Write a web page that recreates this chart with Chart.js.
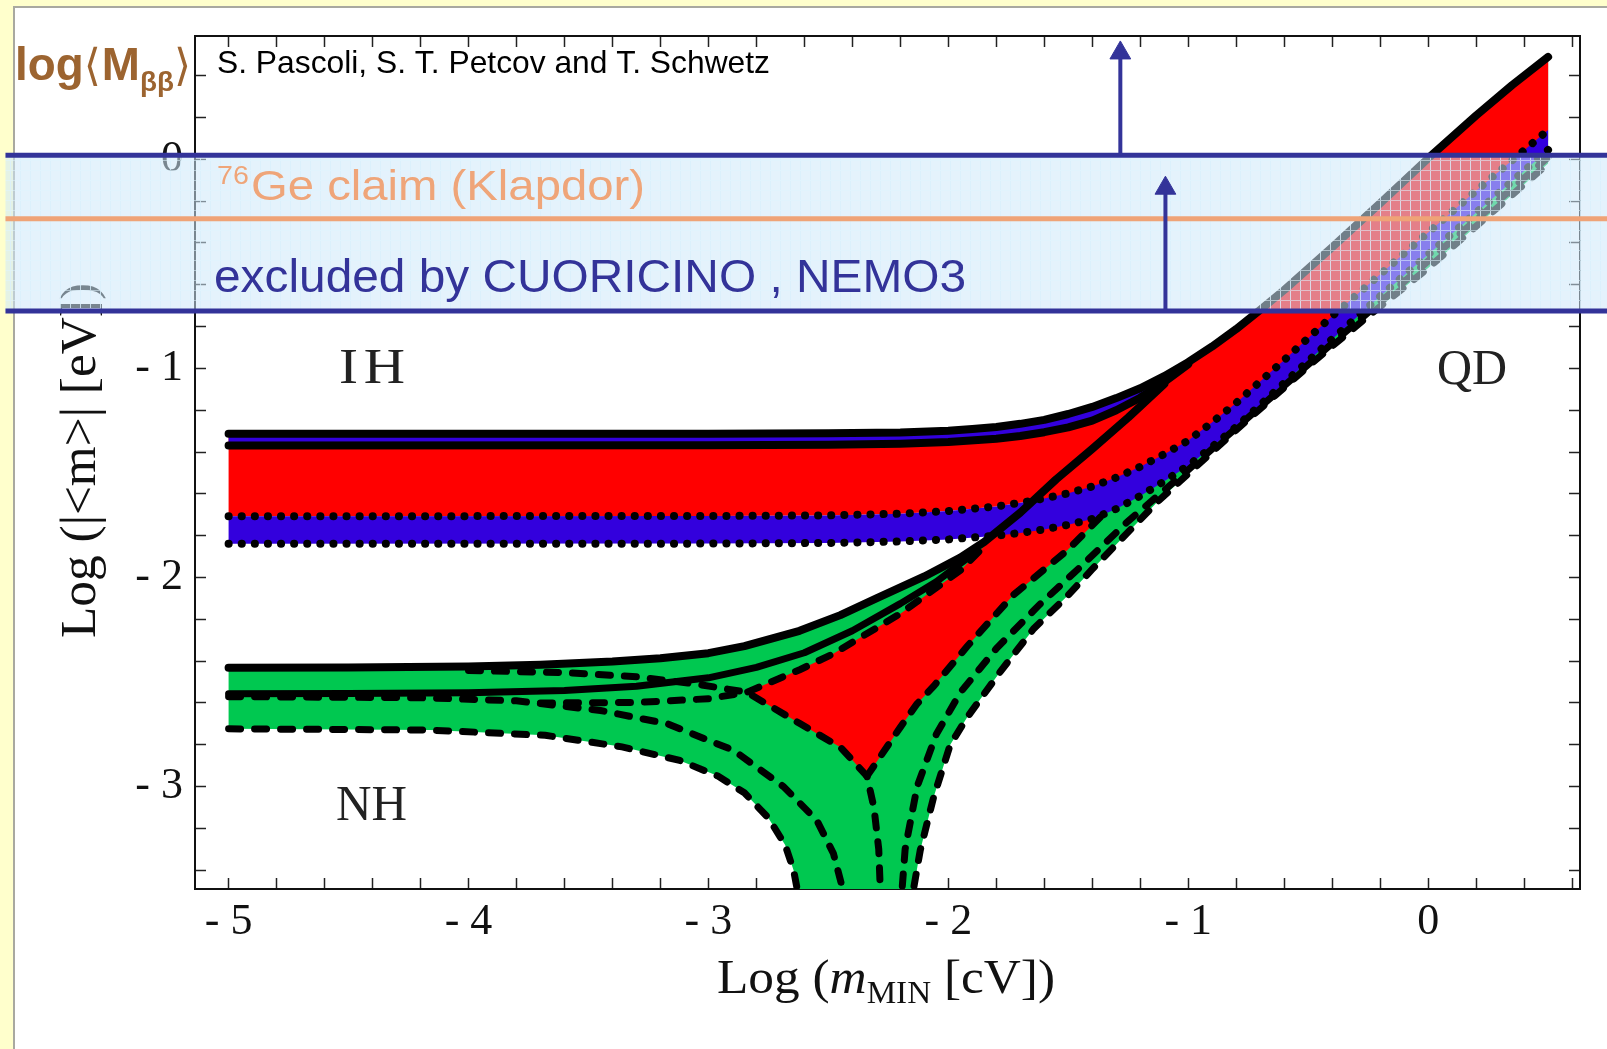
<!DOCTYPE html>
<html>
<head>
<meta charset="utf-8">
<script src="https://cdn.jsdelivr.net/npm/chart.js"></script>
<style>
  html, body { margin: 0; padding: 0; background: #FFFFCC; overflow: hidden; }
  #slide { position: absolute; left: 13px; top: 6px; right: 0; bottom: 0; background: #fff;
           border-left: 2px solid #A9A9A0; border-top: 2px solid #A9A9A0; }
  #wrap { position: absolute; left: 0; top: 0; width: 1607px; height: 1049px; }
</style>
</head>
<body>
<div id="slide"></div>
<div id="wrap"><canvas id="chart"></canvas></div>
<script>
// axes: log10(m_MIN / eV) and log10(|<m>| / eV)
const xRange = [-5.14, 0.633];
const yRange = [-3.49, 0.59];
const xMajor = [-5, -4, -3, -2, -1, 0];
const xTickLabels = ['- 5', '- 4', '- 3', '- 2', '- 1', '0'];
const yMajor = [0, -1, -2, -3];
const yTickLabels = ['0', '- 1', '- 2', '- 3'];

// inverted hierarchy, upper edge (runs on as the QD upper edge)
const ihMax = [[-5.0,-1.313],[-4.0,-1.313],[-3.0,-1.312],[-2.5,-1.31],[-2.2,-1.306],[-2.0,-1.298],
  [-1.9,-1.29],[-1.8,-1.28],[-1.7,-1.265],[-1.6,-1.246],[-1.5,-1.218],[-1.4,-1.184],[-1.3,-1.142],
  [-1.2,-1.095],[-1.1,-1.037],[-1.0,-0.97],[-0.9,-0.895],[-0.8,-0.812],[-0.7,-0.72],[-0.6,-0.625],
  [-0.4,-0.42],[-0.2,-0.21],[0.0,0.005],[0.2,0.21],[0.35,0.355],[0.5,0.49]];
const ihMax2 = [[-5.0,-1.369],[-3.0,-1.368],[-2.5,-1.365],[-2.2,-1.36],[-2.0,-1.352],[-1.8,-1.336],
  [-1.7,-1.323],[-1.6,-1.305],[-1.5,-1.282],[-1.4,-1.25],[-1.3,-1.2],[-1.2,-1.14],[-1.1,-1.065],[-1.0,-0.98]];
const ihRedLow = [[-5.0,-1.707],[-3.0,-1.706],[-2.5,-1.703],[-2.2,-1.695],[-2.0,-1.682],[-1.8,-1.66],
  [-1.7,-1.643],[-1.6,-1.622],[-1.5,-1.597],[-1.4,-1.565],[-1.3,-1.522],[-1.2,-1.47],[-1.1,-1.41],
  [-1.0,-1.345],[-0.9,-1.258],[-0.8,-1.165],[-0.6,-0.96],[-0.4,-0.75],[-0.2,-0.55],[0.0,-0.35],
  [0.2,-0.15],[0.5,0.14]];
const ihBlueLow = [[-5.0,-1.839],[-3.0,-1.838],[-2.5,-1.835],[-2.2,-1.828],[-2.0,-1.818],[-1.8,-1.80],
  [-1.7,-1.787],[-1.6,-1.77],[-1.5,-1.748],[-1.4,-1.72],[-1.3,-1.672],[-1.2,-1.61],[-1.1,-1.54],
  [-1.0,-1.465],[-0.9,-1.375],[-0.8,-1.28],[-0.6,-1.07],[-0.4,-0.86],[-0.2,-0.655],[0.0,-0.455],
  [0.2,-0.255],[0.5,0.045]];

// normal hierarchy
const nhMax = [[-5.0,-2.432],[-4.5,-2.431],[-4.0,-2.426],[-3.7,-2.417],[-3.4,-2.402],[-3.2,-2.386],
  [-3.0,-2.362],[-2.85,-2.328],[-2.62,-2.255],[-2.45,-2.18],[-2.3,-2.1],[-2.1,-1.995],[-1.95,-1.905],
  [-1.85,-1.83],[-1.7,-1.69],[-1.55,-1.53],[-1.4,-1.385],[-1.25,-1.235],[-1.1,-1.075]];
const nhMid = [[-5.0,-2.556],[-4.5,-2.555],[-4.0,-2.551],[-3.6,-2.54],[-3.3,-2.52],[-3.0,-2.48],
  [-2.8,-2.43],[-2.6,-2.36],[-2.4,-2.255],[-2.2,-2.125],[-2.05,-2.02],[-1.9,-1.89]];
const nhLow = [[-5.0,-2.724],[-4.5,-2.727],[-4.16,-2.73],[-3.68,-2.755],[-3.36,-2.81],[-3.12,-2.875],
  [-2.96,-2.95],[-2.85,-3.03],[-2.75,-3.15],[-2.68,-3.28],[-2.645,-3.4],[-2.63,-3.49],[-2.62,-3.6]];
const nhOuterR = [[-2.15,-3.6],[-2.145,-3.49],[-2.117,-3.305],[-2.061,-3.05],[-1.992,-2.8],[-1.922,-2.67],
  [-1.783,-2.45],[-1.644,-2.245],[-1.505,-2.09],[-1.4,-1.96],[-1.13,-1.64],[-0.815,-1.31],
  [-0.49,-0.98],[-0.25,-0.75],[0.0,-0.52],[0.25,-0.27],[0.5,-0.02]];
const nhRedUpper = [[-2.84,-2.549],[-2.617,-2.44],[-2.48,-2.365],[-2.2,-2.173],[-1.95,-1.966],[-1.85,-1.85]];
const nhRedRight = [[-2.339,-2.95],[-2.2,-2.716],[-2.131,-2.605],[-2.061,-2.52],[-1.922,-2.33],
  [-1.73,-2.085],[-1.505,-1.871],[-1.366,-1.711]];
const nhRedLeft = [[-2.339,-2.95],[-2.45,-2.812],[-2.617,-2.70],[-2.84,-2.549]];
const nhRedHidden = [[0.5,0.09],[0.2,-0.2],[0.0,-0.4],[-0.2,-0.6],[-0.4,-0.8],[-0.6,-1.01],
  [-0.8,-1.22],[-1.0,-1.40],[-1.2,-1.54]];
const dashInner = [[-5.0,-2.57],[-4.2,-2.575],[-3.8,-2.59],[-3.45,-2.636],[-3.17,-2.70],[-2.895,-2.827],
  [-2.687,-3.0],[-2.548,-3.162],[-2.479,-3.32],[-2.44,-3.49],[-2.43,-3.6]];
const dashCusp = [[-4.0,-2.445],[-3.6,-2.455],[-3.3,-2.475],[-3.05,-2.51],[-2.84,-2.549],[-2.617,-2.70],
  [-2.45,-2.812],[-2.339,-2.95],[-2.31,-3.1],[-2.29,-3.3],[-2.28,-3.6]];
const dashRedUp = [[-3.7,-2.6],[-3.3,-2.598],[-3.0,-2.58],[-2.84,-2.549],[-2.617,-2.44],[-2.48,-2.365],
  [-2.2,-2.173],[-1.95,-1.966],[-1.85,-1.85]];
const dashMid = [[-2.2,-3.6],[-2.18,-3.3],[-2.13,-3.0],[-2.05,-2.75],[-1.95,-2.55],[-1.8,-2.34],
  [-1.62,-2.13],[-1.45,-1.95],[-1.25,-1.73],[-1.0,-1.485],[-0.7,-1.185],[-0.4,-0.88],
  [-0.1,-0.585],[0.2,-0.29],[0.5,0.01]];

// experimental overlays
const bandX = [-5.93, 0.75];
const bandY = [0.0196, -0.725];     // excluded by CUORICINO, NEMO3
const geClaimY = -0.284;            // 76Ge claim
const arrowX = [-1.283, -1.095];
const arrowBase = [0.0196, -0.725];
const arrowHead = [0.509, -0.138];

const RED = '#FF0000', BLUE = '#3300DD', GREEN = '#00C850', NAVY = '#333399';

const upperQD = ihMax.filter(p => p[0] >= -1.0);
const rev = a => a.slice().reverse();

const greenShape = nhMax.concat(upperQD, rev(nhOuterR), rev(nhLow));
const nhRedShape = nhRedUpper.concat(nhMax.filter(p => p[0] > -1.8), upperQD, nhRedHidden,
  rev(nhRedRight), nhRedLeft.slice(1));
const ihRedShape = ihMax.concat(rev(ihRedLow));
const ihStripShape = ihMax.filter(p => p[0] <= -1.0).concat(rev(ihMax2));
const ihBlueShape = ihRedLow.concat(rev(ihBlueLow));

function shape(data, color) {
  return { data, showLine: true, fill: 'shape', backgroundColor: color,
           borderWidth: 0, borderColor: 'rgba(0,0,0,0)', pointRadius: 0 };
}
function solid(data, w) {
  return { data, showLine: true, fill: false, borderColor: '#000', borderWidth: w || 8,
           borderCapStyle: 'round', borderJoinStyle: 'round', pointRadius: 0 };
}
function dotted(data) {
  return { data, showLine: true, fill: false, borderColor: '#000', borderWidth: 8,
           borderDash: [0.1, 13], borderCapStyle: 'round', pointRadius: 0 };
}
function dashed(data) {
  return { data, showLine: true, fill: false, borderColor: '#000', borderWidth: 7,
           borderDash: [12, 14], borderCapStyle: 'round', pointRadius: 0 };
}

const curveSets = [
  shape(greenShape, GREEN),
  shape(nhRedShape, RED),
  shape(ihRedShape, RED),
  shape(ihStripShape, BLUE),
  shape(ihBlueShape, BLUE),
  dashed(nhLow), dashed(nhOuterR), dashed(dashInner), dashed(dashCusp),
  dashed(dashRedUp), dashed(nhRedRight), dashed(dashMid),
  solid(nhMid, 7), solid(nhMax), dotted(ihRedLow), dotted(ihBlueLow),
  solid(ihMax2), solid(ihMax)
];
const lastCurveIndex = curveSets.length - 1;

function hline(y, color, w) {
  return { data: [[bandX[0], y], [bandX[1], y]], showLine: true, fill: false, borderColor: color,
           borderWidth: w, pointRadius: 0, clip: false };
}
function arrow(i) {
  return { data: [[arrowX[i], arrowBase[i]], [arrowX[i], arrowHead[i]]], showLine: true, fill: false,
           borderColor: NAVY, borderWidth: 4, pointRadius: [0, 12], pointStyle: 'triangle',
           pointBackgroundColor: NAVY, pointBorderColor: NAVY, pointBorderWidth: 1, clip: false };
}
const overlaySets = [hline(geClaimY, '#EFA377', 5), hline(bandY[0], NAVY, 5), hline(bandY[1], NAVY, 5), arrow(0), arrow(1)];

const datasets = curveSets.concat(overlaySets).map((d, i) => Object.assign(d, { order: -i }));

// light blue gridded band
const pc = document.createElement('canvas');
pc.width = 10; pc.height = 10;
const pctx = pc.getContext('2d');
pctx.fillStyle = 'rgba(205,232,250,0.55)';
pctx.fillRect(0, 1, 10, 9);
pctx.fillStyle = 'rgba(218,240,253,0.8)';
pctx.fillRect(0, 0, 10, 1);
pctx.fillRect(0, 1, 1, 9);
const bandPattern = pctx.createPattern(pc, 'repeat');

function drawRuns(ctx, runs, x, y, width, color) {
  let total = 0;
  runs.forEach(r => { ctx.font = r.font; r.w = ctx.measureText(r.text).width; total += r.w + (r.gap || 0); });
  const s = width ? width / total : 1;
  ctx.save();
  ctx.translate(x, y);
  ctx.scale(s, 1);
  ctx.fillStyle = color;
  ctx.textAlign = 'left';
  ctx.textBaseline = 'alphabetic';
  let cx = 0;
  runs.forEach(r => { ctx.font = r.font; ctx.fillText(r.text, cx, r.dy || 0); cx += r.w + (r.gap || 0); });
  ctx.restore();
}

const SERIF = "'Liberation Serif', 'DejaVu Serif', serif";
const SANS = "'Liberation Sans', Arial, sans-serif";

const decor = {
  id: 'decor',
  beforeDatasetsDraw(chart) {
    const ctx = chart.ctx;
    drawRuns(ctx, [
      { text: 'Log (', font: '48px ' + SERIF },
      { text: 'm', font: 'italic 48px ' + SERIF },
      { text: 'MIN', font: '31px ' + SERIF, dy: 10 },
      { text: ' [cV])', font: '48px ' + SERIF }
    ], 717, 993, 338, '#111');
    ctx.save();
    ctx.translate(95, 638);
    ctx.rotate(-Math.PI / 2);
    drawRuns(ctx, [{ text: 'Log (|<m>| [eV])', font: '50px ' + SERIF }], 0, 0, 355, '#111');
    ctx.restore();
    drawRuns(ctx, [{ text: 'I', font: '50px ' + SERIF, gap: 5 }, { text: 'H', font: '50px ' + SERIF }],
      339, 383, 66, '#222');
    drawRuns(ctx, [{ text: 'NH', font: '50px ' + SERIF }], 336, 820, 71, '#222');
    drawRuns(ctx, [{ text: 'QD', font: '50px ' + SERIF }], 1437, 384, 70, '#222');
  },
  afterDatasetDraw(chart, args) {
    if (args.index !== lastCurveIndex) return;
    const { ctx, scales: { x, y } } = chart;
    const x0 = x.getPixelForValue(bandX[0]), x1 = x.getPixelForValue(bandX[1]);
    const yt = y.getPixelForValue(bandY[0]), yb = y.getPixelForValue(bandY[1]);
    ctx.save();
    ctx.fillStyle = bandPattern;
    ctx.fillRect(x0, yt, x1 - x0, yb - yt);
    ctx.restore();
  },
  afterDraw(chart) {
    const ctx = chart.ctx;
    drawRuns(ctx, [{ text: 'S. Pascoli, S. T. Petcov and T. Schwetz', font: '32px ' + SANS }], 217, 73, 553, '#000');
    drawRuns(ctx, [
      { text: '76', font: '26px ' + SANS, dy: -16, gap: 2 },
      { text: 'Ge claim (Klapdor)', font: '43px ' + SANS }
    ], 217, 200, 428, '#EFA579');
    drawRuns(ctx, [{ text: 'excluded by CUORICINO , NEMO3', font: '47px ' + SANS }], 214, 292, 752, NAVY);
    drawRuns(ctx, [
      { text: 'log', font: 'bold 46px ' + SANS },
      { text: '\u27E8', font: "44px 'DejaVu Sans', sans-serif", gap: 1 },
      { text: 'M', font: 'bold 46px ' + SANS },
      { text: '\u03B2\u03B2', font: 'bold 28px ' + SANS, dy: 11 },
      { text: '\u27E9', font: "44px 'DejaVu Sans', sans-serif" }
    ], 15, 80, 176, '#9C6430');
  }
};

function tickLabel(values, labels) {
  return v => {
    const i = values.findIndex(m => Math.abs(m - v) < 1e-6);
    return i >= 0 ? labels[i] : '';
  };
}
function axis(pos, range, size) {
  const horizontal = pos === 'top' || pos === 'bottom';
  return {
    type: 'linear', position: pos, min: range[0], max: range[1],
    grid: { drawOnChartArea: false, drawTicks: true, tickLength: -11, tickColor: '#222', tickWidth: 1.5 },
    border: { display: true, color: '#111', width: 2 },
    ticks: { stepSize: 0.2, maxTicksLimit: 60, autoSkip: false, maxRotation: 0, minRotation: 0,
             includeBounds: false, display: false },
    afterFit: s => {
      if (horizontal) s.height = size; else s.width = size;
      s.paddingTop = 0; s.paddingBottom = 0; s.paddingLeft = 0; s.paddingRight = 0;
    }
  };
}

const xAxis = axis('bottom', xRange, 160);
Object.assign(xAxis.ticks, { display: true, padding: 18, color: '#111',
  font: { family: SERIF, size: 44 }, callback: tickLabel(xMajor, xTickLabels) });
const yAxis = axis('left', yRange, 195);
Object.assign(yAxis.ticks, { display: true, padding: 23, color: '#111',
  font: { family: SERIF, size: 44 }, callback: tickLabel(yMajor, yTickLabels) });

new Chart(document.getElementById('chart'), {
  type: 'scatter',
  data: { datasets },
  options: {
    responsive: true,
    maintainAspectRatio: false,
    animation: false,
    events: [],
    layout: { padding: 0 },
    plugins: { legend: { display: false }, tooltip: { enabled: false } },
    scales: {
      x: xAxis,
      x2: axis('top', xRange, 36),
      y: yAxis,
      y2: axis('right', yRange, 27)
    }
  },
  plugins: [decor]
});
</script>
</body>
</html>
